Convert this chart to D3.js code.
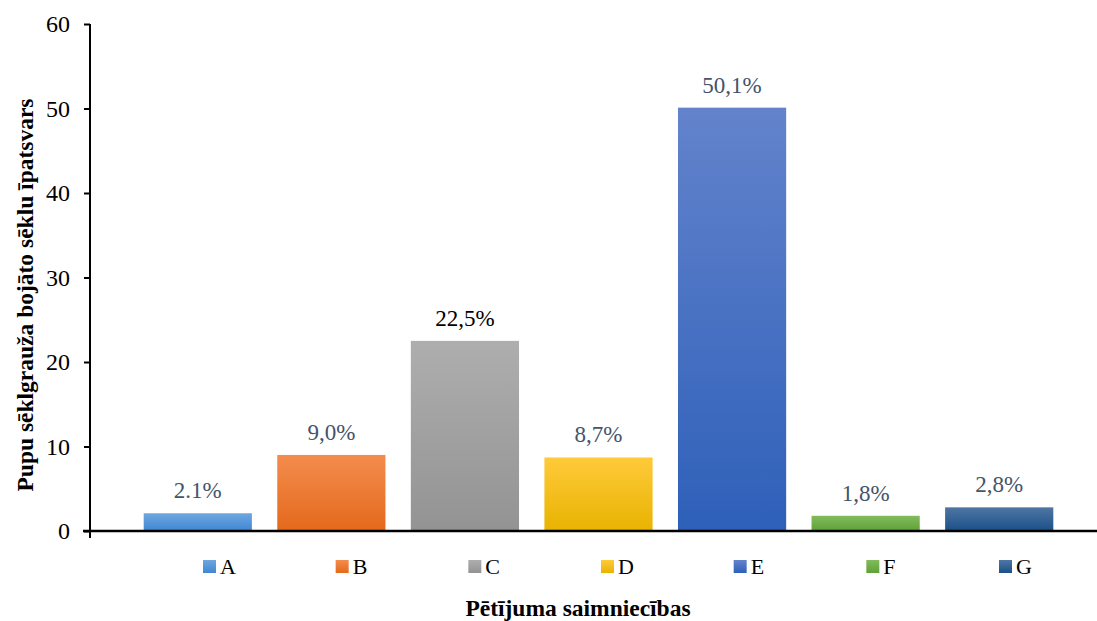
<!DOCTYPE html>
<html>
<head>
<meta charset="utf-8">
<script src="https://cdn.jsdelivr.net/npm/d3@7"></script>
<style>
  html, body { margin: 0; padding: 0; background: #fff; }
  svg { display: block; }
  svg text { font-family: "Liberation Serif", Tinos, "Times New Roman", Times, serif; }
</style>
</head>
<body>
<svg id="chart" width="1097" height="621"></svg>
<script>
// Farm categories and share of damaged seeds (%)
const categories = ["A", "B", "C", "D", "E", "F", "G"];
const values = [2.1, 9.0, 22.5, 8.7, 50.1, 1.8, 2.8];
const valueLabels = ["2.1%", "9,0%", "22,5%", "8,7%", "50,1%", "1,8%", "2,8%"];
const yTicks = [0, 10, 20, 30, 40, 50, 60];

// Gradient colours per bar: [top, bottom]
const barColors = [
  ["#6fa7e0", "#3f86d3"],
  ["#f48c4e", "#e4691b"],
  ["#aeaeae", "#939393"],
  ["#ffca3a", "#e8b300"],
  ["#6383cc", "#2e60b9"],
  ["#82bb5c", "#60a138"],
  ["#4f76a4", "#1a5088"]
];
const labelColors = ["#44546a", "#44546a", "#000000", "#44546a", "#44546a", "#44546a", "#44546a"];

const serif = "'Liberation Serif', Tinos, 'Times New Roman', Times, serif";

const svg = d3.select("#chart");

const x = d3.scaleBand().domain(categories).range([131, 1066]).paddingInner(0.19).paddingOuter(0.095);
const y = d3.scaleLinear().domain([0, 60]).range([531, 24]);

// Gradients
const defs = svg.append("defs");
categories.forEach((c, i) => {
  const g = defs.append("linearGradient")
    .attr("id", "grad" + c)
    .attr("x1", 0).attr("y1", 0).attr("x2", 0).attr("y2", 1);
  g.append("stop").attr("offset", "0%").attr("stop-color", barColors[i][0]);
  g.append("stop").attr("offset", "100%").attr("stop-color", barColors[i][1]);
});

// Bars
svg.append("g").selectAll("rect")
  .data(categories)
  .join("rect")
  .attr("x", c => x(c))
  .attr("width", x.bandwidth())
  .attr("y", (c, i) => y(values[i]))
  .attr("height", (c, i) => y(0) - y(values[i]))
  .attr("fill", c => "url(#grad" + c + ")");

// Value labels
svg.append("g").selectAll("text")
  .data(categories)
  .join("text")
  .attr("x", c => x(c) + x.bandwidth() / 2)
  .attr("y", (c, i) => y(values[i]) - 15)
  .attr("text-anchor", "middle")
  .style("font-family", serif)
  .attr("font-size", 23)
  .attr("fill", (c, i) => labelColors[i])
  .text((c, i) => valueLabels[i]);

// Y axis
const yAxis = d3.axisLeft(y).tickValues(yTicks).tickSize(6).tickPadding(14).tickFormat(d3.format("d"));
const yg = svg.append("g").attr("transform", "translate(90,0)").call(yAxis);
yg.select(".domain").attr("stroke", "#000").attr("stroke-width", 2).attr("d", "M0,24V538");
yg.selectAll(".tick line").attr("stroke", "#000").attr("stroke-width", 2);
yg.selectAll(".tick text").attr("font-size", 24).attr("fill", "#000")
  .style("font-family", serif);

// X axis baseline (no tick labels; categories are named in the legend)
const xAxis = d3.axisBottom(x).tickSize(0).tickFormat("");
const xg = svg.append("g").attr("transform", "translate(0," + y(0) + ")").call(xAxis);
xg.select(".domain").attr("stroke", "#000").attr("stroke-width", 2.5).attr("d", "M83,0H1097");

// Legend
const lx = d3.scalePoint().domain(categories).range([203, 999]);
const legend = svg.append("g").selectAll("g")
  .data(categories)
  .join("g")
  .attr("transform", c => "translate(" + lx(c) + ",560)");
legend.append("rect")
  .attr("width", 13).attr("height", 13)
  .attr("fill", c => "url(#grad" + c + ")");
legend.append("text")
  .attr("x", 17).attr("y", 13.5)
  .style("font-family", serif)
  .attr("font-size", 22)
  .attr("fill", "#000")
  .text(c => c);

// Axis titles
svg.append("text")
  .attr("x", 578).attr("y", 616)
  .attr("text-anchor", "middle")
  .style("font-family", serif)
  .attr("font-size", 23.5).attr("font-weight", "bold")
  .text("Pētījuma saimniecības");

svg.append("text")
  .attr("transform", "translate(33,295) rotate(-90)")
  .attr("text-anchor", "middle")
  .style("font-family", serif)
  .attr("font-size", 23.5).attr("font-weight", "bold")
  .text("Pupu sēklgrauža bojāto sēklu īpatsvars");
</script>
</body>
</html>
